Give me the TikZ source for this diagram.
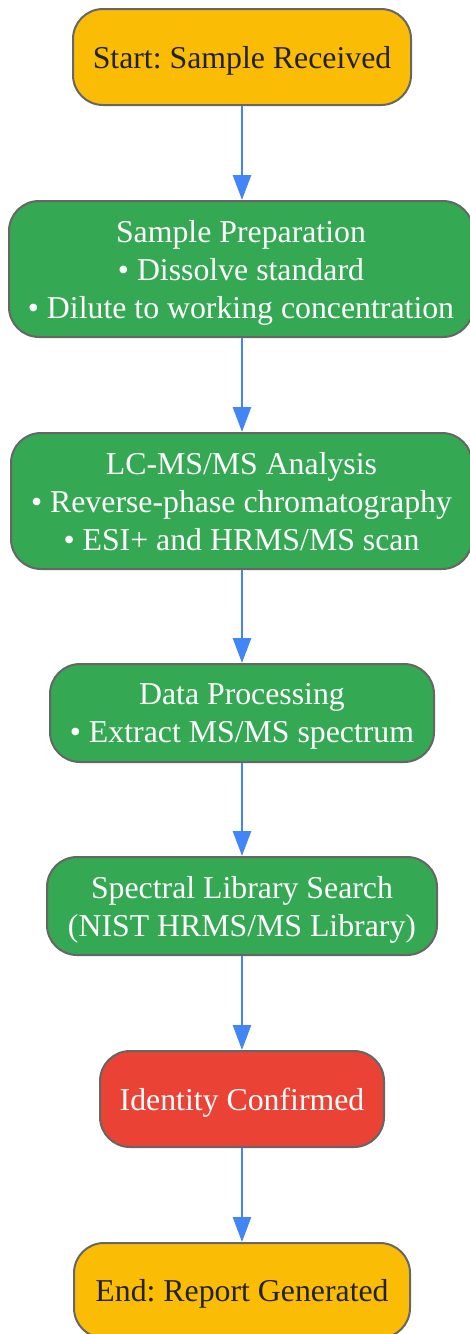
\documentclass[tikz,border=0pt]{standalone}
\usepackage{fontspec}
\setmainfont{Liberation Serif}
\frenchspacing
\usetikzlibrary{arrows.meta}
\definecolor{yel}{HTML}{FBBC05}
\definecolor{grn}{HTML}{34A853}
\definecolor{rd}{HTML}{EA4335}
\definecolor{bord}{HTML}{666666}
\definecolor{arr}{HTML}{4285F4}
\definecolor{dark}{HTML}{222222}
\tikzset{
  box/.style={draw=bord, line width=2pt, rounded corners=30pt, inner sep=0pt, align=center,
    text depth=0pt, font=\fontsize{31.8}{38}\selectfont},
  yelbox/.style={box, fill=yel, text=dark},
  grnbox/.style={box, fill=grn, text=white},
  redbox/.style={box, fill=rd, text=white},
  conn/.style={draw=arr, line width=2.6pt, -{Triangle[length=25pt,width=18pt]}}
}
\begin{document}
\begin{tikzpicture}[x=1pt,y=1pt]
\useasboundingbox (0,0) rectangle (470,-1334);
\node[yelbox, minimum width=338pt, minimum height=96pt] (start) at (242,-57) {Start: Sample Received};
\node[grnbox, minimum width=464pt, minimum height=136pt] (prep) at (241,-269) {Sample Preparation\\• Dissolve standard\\• Dilute to working concentration};
\node[grnbox, minimum width=461pt, minimum height=136pt] (lcms) at (241.5,-501) {LC-MS/MS Analysis\\• Reverse-phase chromatography\\• ESI+ and HRMS/MS scan};
\node[grnbox, minimum width=384pt, minimum height=98pt] (proc) at (242,-713) {Data Processing\\• Extract MS/MS spectrum};
\node[grnbox, minimum width=390pt, minimum height=98pt] (lib) at (242,-906) {Spectral Library Search\\(NIST HRMS/MS Library)};
\node[redbox, minimum width=284pt, minimum height=96pt] (id) at (242,-1099) {Identity Confirmed};
\node[yelbox, minimum width=336pt, minimum height=95pt] (end) at (242,-1290.5) {End: Report Generated};
\draw[conn] (start.south -| 242,0) -- (prep.north -| 242,0);
\draw[conn] (prep.south -| 242,0) -- (lcms.north -| 242,0);
\draw[conn] (lcms.south -| 242,0) -- (proc.north -| 242,0);
\draw[conn] (proc) -- (lib);
\draw[conn] (lib) -- (id);
\draw[conn] (id) -- (end);
\end{tikzpicture}
\end{document}
